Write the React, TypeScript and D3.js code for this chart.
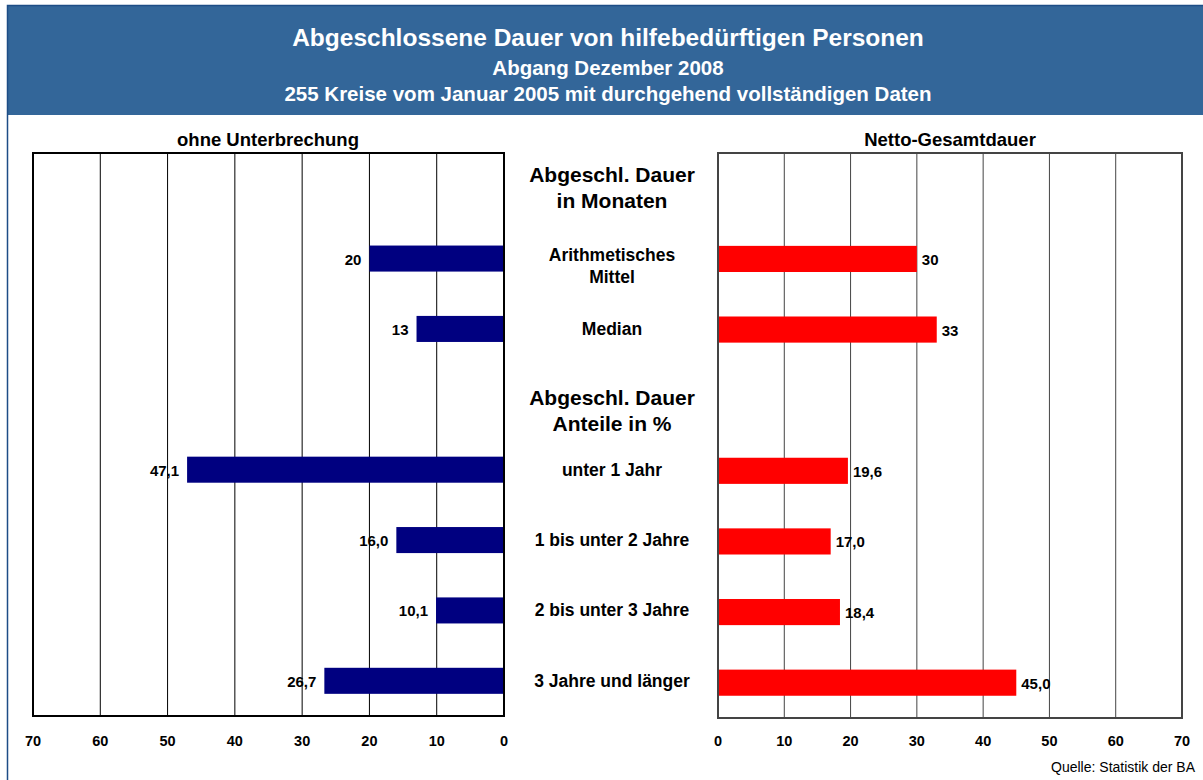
import React from 'react';
import * as d3 from 'd3';

// rows of the two mirrored bar charts (headings are rows without bars)
const rows = [
  'head1',
  'Arithmetisches Mittel',
  'Median',
  'head2',
  'unter 1 Jahr',
  '1 bis unter 2 Jahre',
  '2 bis unter 3 Jahre',
  '3 Jahre und länger',
];
const headings: Record<string, string[]> = {
  head1: ['Abgeschl. Dauer', 'in Monaten'],
  head2: ['Abgeschl. Dauer', 'Anteile in %'],
};
const barRows = rows.filter((r) => !headings[r]);
const ohneValues = [20, 13, 47.1, 16.0, 10.1, 26.7];
const nettoValues = [30, 33, 19.6, 17.0, 18.4, 45.0];
const valueDigits = [0, 0, 1, 1, 1, 1];
const ticks = [0, 10, 20, 30, 40, 50, 60, 70];

const W = 1203;
const H = 780;
const font = '"Liberation Sans", Arial, sans-serif';

const fmt = (v: number, d: number) => v.toFixed(d).replace('.', ',');

const App = () => {
  const top = 153;
  const bottomL = 716;
  const bottomR = 718;

  const xL = d3.scaleLinear().domain([0, 70]).range([504, 33]);
  const xR = d3.scaleLinear().domain([0, 70]).range([718, 1182]);
  const yL = d3.scaleBand().domain(rows).range([top, bottomL]).paddingInner(0.63).paddingOuter(0.315);
  const yR = d3.scaleBand().domain(rows).range([top, bottomR]).paddingInner(0.63).paddingOuter(0.315);
  const yC = d3.scaleBand().domain(rows).range([top, bottomL]);

  return (
    <svg
      width={W}
      height={H}
      style={{ position: 'absolute', left: 0, top: 0, fontFamily: font }}
    >
      <rect x={0} y={0} width={W} height={H} fill="#fff" />
      <rect x={8} y={6} width={W} height={109} fill="#336699" />
      <rect x={7.5} y={5.5} width={W + 10} height={H + 10} fill="none" stroke="#1d4d86" strokeWidth={1.5} />

      <g fill="#fff" fontWeight="bold" textAnchor="middle">
        <text x={608} y={46} fontSize={24.5}>Abgeschlossene Dauer von hilfebedürftigen Personen</text>
        <text x={608} y={75} fontSize={20.5}>Abgang Dezember 2008</text>
        <text x={608} y={101} fontSize={20.5}>255 Kreise vom Januar 2005 mit durchgehend vollständigen Daten</text>
      </g>

      <g fontWeight="bold" fontSize={18.5} textAnchor="middle">
        <text x={268} y={146}>ohne Unterbrechung</text>
        <text x={950} y={146}>Netto-Gesamtdauer</text>
      </g>

      {/* left chart */}
      <g>
        {ticks.slice(1, -1).map((t) => (
          <line key={t} x1={xL(t)} x2={xL(t)} y1={top} y2={bottomL} stroke="#000" strokeWidth={1} />
        ))}
        {barRows.map((r, i) => (
          <g key={r}>
            <rect
              x={xL(ohneValues[i])}
              y={yL(r)}
              width={xL(0) - xL(ohneValues[i])}
              height={yL.bandwidth()}
              fill="#000080"
            />
            <text
              x={xL(ohneValues[i]) - 8}
              y={(yL(r) as number) + yL.bandwidth() / 2 + 6}
              textAnchor="end"
              fontSize={15}
              fontWeight="bold"
            >
              {fmt(ohneValues[i], valueDigits[i])}
            </text>
          </g>
        ))}
        <rect x={xL(70)} y={top} width={xL(0) - xL(70)} height={bottomL - top} fill="none" stroke="#000" strokeWidth={2} />
        {ticks.map((t) => (
          <text key={t} x={xL(t)} y={746} textAnchor="middle" fontSize={14.5} fontWeight="bold">
            {t}
          </text>
        ))}
      </g>

      {/* right chart */}
      <g>
        {ticks.slice(1, -1).map((t) => (
          <line key={t} x1={xR(t)} x2={xR(t)} y1={top} y2={bottomR} stroke="#444" strokeWidth={1} />
        ))}
        {barRows.map((r, i) => (
          <g key={r}>
            <rect
              x={xR(0)}
              y={yR(r)}
              width={xR(nettoValues[i]) - xR(0)}
              height={yR.bandwidth()}
              fill="#ff0000"
            />
            <text
              x={xR(nettoValues[i]) + 5}
              y={(yR(r) as number) + yR.bandwidth() / 2 + 6}
              textAnchor="start"
              fontSize={15}
              fontWeight="bold"
            >
              {fmt(nettoValues[i], valueDigits[i])}
            </text>
          </g>
        ))}
        <rect x={xR(0)} y={top} width={xR(70) - xR(0)} height={bottomR - top} fill="none" stroke="#444" strokeWidth={2} />
        {ticks.map((t) => (
          <text key={t} x={xR(t)} y={746} textAnchor="middle" fontSize={14.5} fontWeight="bold">
            {t}
          </text>
        ))}
      </g>

      {/* category labels in the middle */}
      <g textAnchor="middle" fontWeight="bold">
        {rows.map((r) => {
          const cy = (yC(r) as number) + yC.bandwidth() / 2;
          if (headings[r]) {
            const y0 = r === 'head1' ? cy - 6 : cy + 6;
            return (
              <text key={r} x={612} y={y0} fontSize={21}>
                <tspan x={612}>{headings[r][0]}</tspan>
                <tspan x={612} dy={26}>{headings[r][1]}</tspan>
              </text>
            );
          }
          if (r === 'Arithmetisches Mittel') {
            return (
              <text key={r} x={612} y={cy + 2} fontSize={17.5}>
                <tspan x={612}>Arithmetisches</tspan>
                <tspan x={612} dy={22}>Mittel</tspan>
              </text>
            );
          }
          return (
            <text key={r} x={612} y={cy + 6} fontSize={17.5}>
              {r}
            </text>
          );
        })}
      </g>

      <text x={1195} y={772} textAnchor="end" fontSize={14}>
        Quelle: Statistik der BA
      </text>
    </svg>
  );
};

export default App;
